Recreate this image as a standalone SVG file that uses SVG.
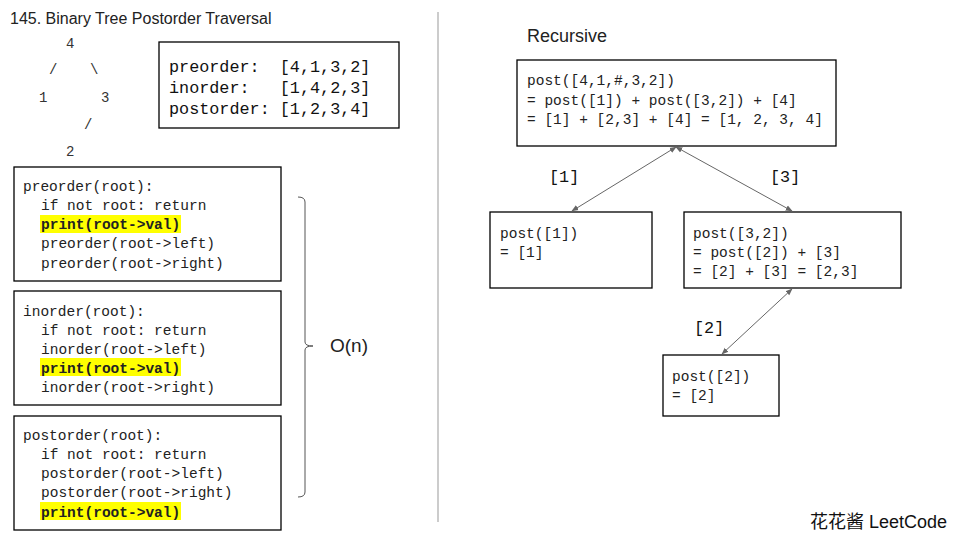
<svg xmlns="http://www.w3.org/2000/svg" width="960" height="540" viewBox="0 0 960 540">
<defs>
<marker id="ah" viewBox="0 0 10 10" refX="9" refY="5" markerWidth="7" markerHeight="7" orient="auto-start-reverse" markerUnits="userSpaceOnUse">
<path d="M0,1 L10,5 L0,9 z" fill="#666"/>
</marker>
<style>
.box{fill:#fff;stroke:#000;stroke-width:1.3}
.code{font-family:"Liberation Mono","DejaVu Sans Mono",monospace;font-size:14.5px;fill:#222}
.big{font-family:"Liberation Mono","DejaVu Sans Mono",monospace;font-size:16.8px;fill:#111;white-space:pre}
.sans{font-family:"Liberation Sans",Arial,sans-serif;fill:#222}
.hl{fill:#ffff00}
.b{font-weight:bold}
.conn{stroke:#666;stroke-width:1;fill:none;marker-start:url(#ah);marker-end:url(#ah)}
</style>
</defs>
<rect width="960" height="540" fill="#fff"/>
<text class="sans" x="10" y="24" font-size="16" fill="#333">145. Binary Tree Postorder Traversal</text>
<g id="tree" class="code" style="fill:#333;font-size:14px">
<text x="66" y="48">4</text>
<text x="49" y="74">/</text>
<text x="90" y="74">\</text>
<text x="39" y="102">1</text>
<text x="101" y="102">3</text>
<text x="84" y="129">/</text>
<text x="66" y="156">2</text>
</g>
<g id="summary">
<rect class="box" x="159" y="42" width="240" height="86"/>
<text class="big" x="169" y="72" xml:space="preserve">preorder:  [4,1,3,2]</text>
<text class="big" x="169" y="93" xml:space="preserve">inorder:   [1,4,2,3]</text>
<text class="big" x="169" y="114" xml:space="preserve">postorder: [1,2,3,4]</text>
</g>
<g id="preorder">
<rect class="box" x="14" y="167" width="267" height="114"/>
<rect class="hl" x="40" y="215" width="141" height="18"/>
<text class="code" x="23" y="191">preorder(root):</text>
<text class="code" x="41" y="210">if not root: return</text>
<text class="code b" x="41" y="229">print(root-&gt;val)</text>
<text class="code" x="41" y="248">preorder(root-&gt;left)</text>
<text class="code" x="41" y="268">preorder(root-&gt;right)</text>
</g>
<g id="inorder">
<rect class="box" x="14" y="291" width="267" height="114"/>
<rect class="hl" x="40" y="358" width="141" height="18"/>
<text class="code" x="23" y="316">inorder(root):</text>
<text class="code" x="41" y="335">if not root: return</text>
<text class="code" x="41" y="354">inorder(root-&gt;left)</text>
<text class="code b" x="41" y="373">print(root-&gt;val)</text>
<text class="code" x="41" y="392">inorder(root-&gt;right)</text>
</g>
<g id="postorder">
<rect class="box" x="14" y="416" width="267" height="114"/>
<rect class="hl" x="40" y="502" width="141" height="18"/>
<text class="code" x="23" y="440">postorder(root):</text>
<text class="code" x="41" y="459">if not root: return</text>
<text class="code" x="41" y="478">postorder(root-&gt;left)</text>
<text class="code" x="41" y="497">postorder(root-&gt;right)</text>
<text class="code b" x="41" y="517">print(root-&gt;val)</text>
</g>
<g id="brace">
<path d="M298,197 Q305,197 305,202 L305,342 Q305,346 313,346 Q305,346 305,350 L305,492 Q305,497 298,497" fill="none" stroke="#555" stroke-width="1"/>
<text class="sans" x="330" y="352" font-size="19">O(n)</text>
</g>
<line x1="438" y1="12" x2="438" y2="522" stroke="#999" stroke-width="1"/>
<text class="sans" x="527" y="42" font-size="18">Recursive</text>
<g id="root">
<rect class="box" x="517" y="60" width="319" height="86"/>
<text class="code" x="527" y="85">post([4,1,#,3,2])</text>
<text class="code" x="527" y="105">= post([1]) + post([3,2]) + [4]</text>
<text class="code" x="527" y="124">= [1] + [2,3] + [4] = [1, 2, 3, 4]</text>
</g>
<g id="left">
<rect class="box" x="490" y="212" width="162" height="76"/>
<text class="code" x="500" y="238">post([1])</text>
<text class="code" x="500" y="257">= [1]</text>
</g>
<g id="right">
<rect class="box" x="684" y="212" width="217" height="76"/>
<text class="code" x="693" y="238">post([3,2])</text>
<text class="code" x="693" y="257">= post([2]) + [3]</text>
<text class="code" x="693" y="276">= [2] + [3] = [2,3]</text>
</g>
<g id="bottom">
<rect class="box" x="663" y="355" width="116" height="61"/>
<text class="code" x="672" y="381">post([2])</text>
<text class="code" x="672" y="400">= [2]</text>
</g>
<g id="connectors">
<line class="conn" x1="676" y1="147" x2="572" y2="211"/>
<line class="conn" x1="676" y1="147" x2="792" y2="211"/>
<line class="conn" x1="792" y1="289" x2="722" y2="354"/>
<text class="big" x="549" y="182">[1]</text>
<text class="big" x="770" y="182">[3]</text>
<text class="big" x="694" y="333">[2]</text>
</g>
<text x="810" y="528" font-size="18" font-family="'Liberation Sans','Noto Sans CJK SC',sans-serif" fill="#111">花花酱 LeetCode</text>
</svg>
